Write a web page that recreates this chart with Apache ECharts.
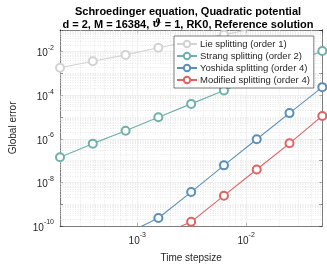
<!DOCTYPE html>
<html>
<head>
<meta charset="utf-8">
<script src="https://cdn.jsdelivr.net/npm/echarts@6/dist/echarts.min.js"></script>
<style>html,body{margin:0;padding:0;background:#fff}#c{width:327px;height:268px}</style>
</head>
<body>
<div id="c"></div>
<script>
// ---- data ----
const stepsizes = [1.953125e-4, 3.90625e-4, 7.8125e-4, 1.5625e-3, 3.125e-3, 6.25e-3, 1.25e-2, 2.5e-2, 5e-2];
const lieErr      = [1.81e-3, 3.6e-3, 7.06e-3, 1.51e-2, 3.0e-2, 6.0e-2, 0.12, 0.24, 0.48];
const strangErr   = [1.43e-7, 6.0e-7, 2.34e-6, 9.8e-6, 4.0e-5, 1.66e-4, 6.6e-4, 2.6e-3, 1.07e-2];
const yoshidaErr  = [1.5e-11, 2.5e-11, 4.2e-11, 2.34e-10, 3.6e-9, 6.05e-8, 9.5e-7, 1.51e-5, 2.34e-4];
const modifiedErr = [1.0e-11, 1.5e-11, 2.5e-11, 3.4e-11, 1.55e-10, 2.46e-9, 3.9e-8, 6.2e-7, 1.12e-5];
const seriesNames = ['Lie splitting (order 1)', 'Strang splitting (order 2)', 'Yoshida splitting (order 4)', 'Modified splitting (order 4)'];
const xTicks = [1e-3, 1e-2];
const yTicks = [1e-10, 1e-8, 1e-6, 1e-4, 1e-2];
const xRange = [1.953125e-4, 5e-2];
const yRange = [1e-10, 1e-1];

// ---- helpers ----
const FONT = "'Liberation Sans', Arial, Helvetica, sans-serif";
const TXT = '#262626';
function isTick(v, arr){ return arr.some(t => Math.abs(Math.log10(v) - Math.log10(t)) < 1e-6); }
function minorVals(range, majors){
  const out = [];
  const k0 = Math.floor(Math.log10(range[0])), k1 = Math.ceil(Math.log10(range[1]));
  for (let k = k0; k <= k1; k++) for (let m = 1; m <= 9; m++) {
    const v = m * Math.pow(10, k);
    if (v > range[0] * 1.0001 && v < range[1] * 0.9999 && !isTick(v, majors)) out.push(v);
  }
  return out;
}
const supLabel = (arr) => function(v){
  if (!isTick(v, arr)) return '';
  const e = Math.round(Math.log10(v));
  return '{b|10}{s|' + e + '}';
};
const richLab = {
  b: {fontSize: 10, fontFamily: FONT, color: TXT, lineHeight: 14, verticalAlign: 'bottom'},
  s: {fontSize: 7, fontFamily: FONT, color: TXT, lineHeight: 8, verticalAlign: 'top'}
};

const colors = ['#d2d2d2', '#6fb0ab', '#5a8fba', '#e06262'];
const dataSets = [lieErr, strangErr, yoshidaErr, modifiedErr];

const minorStyle = {color: '#d6d6d6', type: [1, 1.5], width: 1};
const majorStyle = {color: '#e0e0e0', type: 'solid', width: 1};
const vLine = (v, st) => ({coords: [[v, yRange[0]], [v, yRange[1]]], lineStyle: st});
const hLine = (v, st) => ({coords: [[xRange[0], v], [xRange[1], v]], lineStyle: st});
const gridSeries = {
  type: 'lines', coordinateSystem: 'cartesian2d', xAxisIndex: 0, yAxisIndex: 0,
  z: 1, silent: true, animation: false, polyline: false,
  data: [].concat(
    minorVals(xRange, xTicks).map(v => vLine(v, minorStyle)),
    minorVals(yRange, yTicks).map(v => hLine(v, minorStyle)),
    xTicks.map(v => vLine(v, majorStyle)),
    yTicks.map(v => hLine(v, majorStyle))
  )
};

const dataSeries = seriesNames.map((name, i) => ({
  name, type: 'line', z: 2,
  data: stepsizes.map((x, j) => [x, dataSets[i][j]]),
  xAxisIndex: 0, yAxisIndex: 0,
  symbol: 'emptyCircle', symbolSize: 8, clip: true,
  lineStyle: {color: colors[i], width: 1.1},
  itemStyle: {color: colors[i], borderColor: colors[i], borderWidth: 1},
  emphasis: {disabled: true}, animation: false
}));

const axisCommon = {
  type: 'log', logBase: 10,
  axisLine: {show: true, lineStyle: {color: TXT, width: 0.6}},
  axisTick: {show: true, inside: true, length: 3, lineStyle: {color: TXT, width: 0.6}},
  splitLine: {show: false}
};

const chart = echarts.init(document.getElementById('c'), null, {renderer: 'canvas'});
chart.setOption({
  animation: false,
  backgroundColor: '#fff',
  title: [
    {text: 'Schroedinger equation, Quadratic potential', left: 183, top: 0, textAlign: 'center',
     textStyle: {fontSize: 11, fontWeight: 'bold', fontFamily: FONT, color: '#000', lineHeight: 13}},
    {text: '{b|d = 2, M = 16384, }{i|ϑ}{b| = 1, RK0, Reference solution}', left: 183, top: 13, textAlign: 'center',
     textStyle: {rich: {
       b: {fontSize: 11, fontWeight: 'bold', fontFamily: FONT, color: '#000', lineHeight: 13},
       i: {fontSize: 11, fontWeight: 'bold', fontStyle: 'italic', fontFamily: "'DejaVu Serif', serif", color: '#000', lineHeight: 13}
     }}}
  ],
  grid: {left: 43, right: 4.7, top: 29.8, bottom: 35.7, containLabel: false},
  legend: {
    data: seriesNames, orient: 'vertical', left: 174, top: 36, z: 10,
    backgroundColor: '#fff', borderColor: TXT, borderWidth: 0.6, borderRadius: 0,
    padding: [3, 4, 3, 2], itemGap: 2, itemWidth: 20, itemHeight: 8,
    textStyle: {fontSize: 9.5, fontFamily: FONT, color: TXT, padding: [0, 0, 0, -2], lineHeight: 10},
    selectedMode: false
  },
  xAxis: [
    Object.assign({}, axisCommon, {
      position: 'bottom', min: xRange[0], max: xRange[1],
      name: 'Time stepsize', nameLocation: 'middle', nameGap: 27,
      nameTextStyle: {fontSize: 10, fontFamily: FONT, color: TXT},
      axisLabel: {show: true, margin: 6, showMinLabel: false, showMaxLabel: false, formatter: supLabel(xTicks), rich: richLab}
    }),
    Object.assign({}, axisCommon, {
      position: 'top', min: xRange[0], max: xRange[1], axisLabel: {show: false}
    })
  ],
  yAxis: [
    Object.assign({}, axisCommon, {
      position: 'left', min: yRange[0], max: yRange[1], splitNumber: 9,
      name: 'Global error', nameLocation: 'middle', nameGap: 42,
      nameTextStyle: {fontSize: 10, fontFamily: FONT, color: TXT},
      axisLabel: {show: true, margin: 6, showMaxLabel: false, formatter: supLabel(yTicks), rich: richLab}
    }),
    Object.assign({}, axisCommon, {
      position: 'right', min: yRange[0], max: yRange[1], splitNumber: 9, axisLabel: {show: false}
    })
  ],
  series: [gridSeries].concat(dataSeries)
});
</script>
</body>
</html>
